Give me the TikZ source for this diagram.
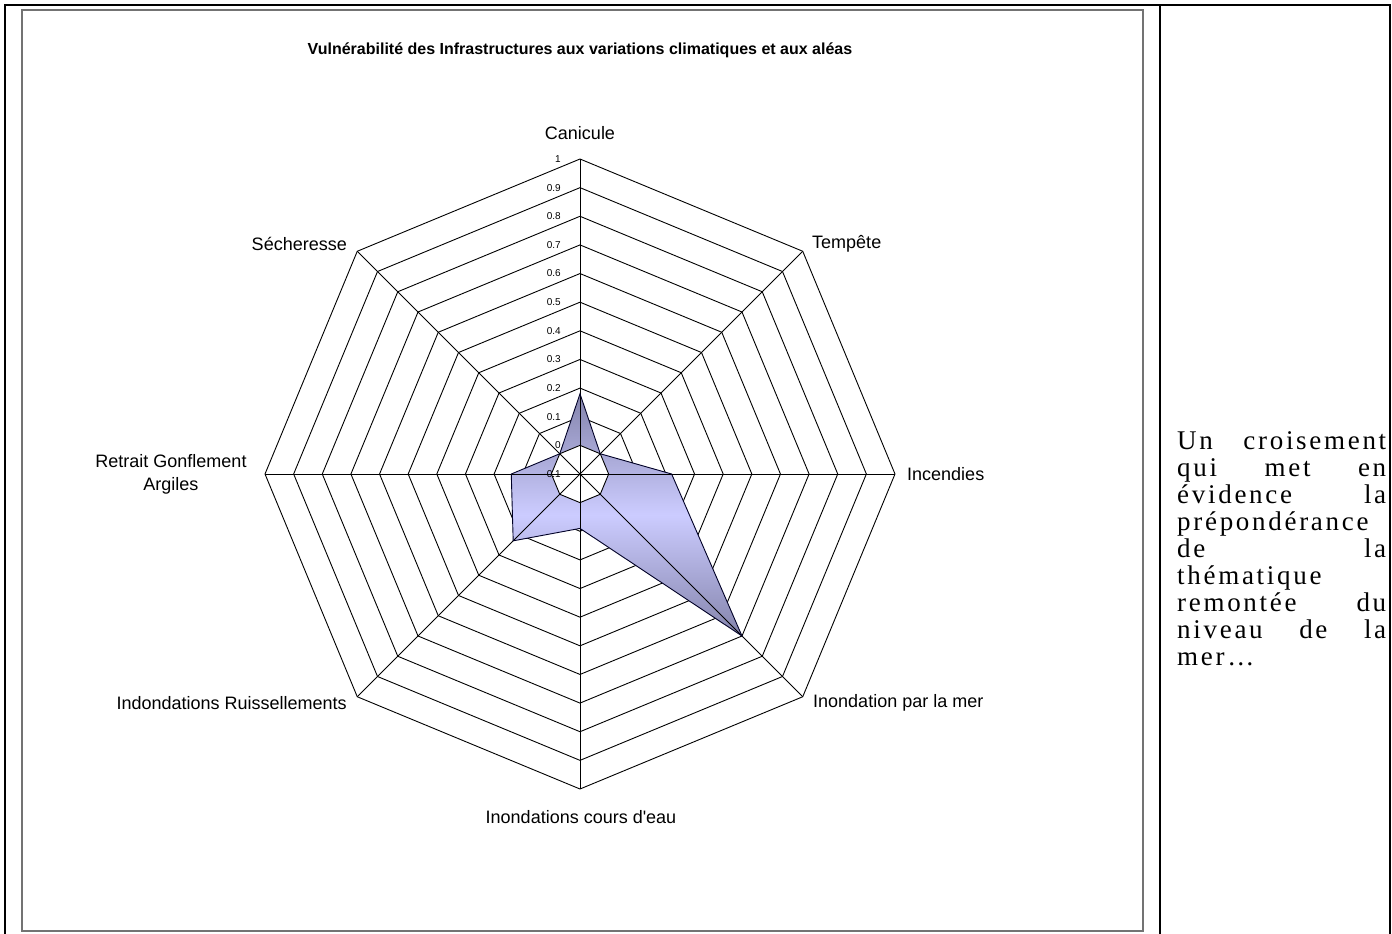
\documentclass[tikz,border=0pt]{standalone}
\usepackage{fontspec}
\setmainfont{Liberation Sans}
\newfontfamily\cellfont[LetterSpace=10]{Liberation Serif}
\usetikzlibrary{calc}
\definecolor{areadark}{RGB}{132,132,172}
\definecolor{arealight}{RGB}{204,204,255}
\def\rstep{28.636}
\tikzset{
  axislabel/.style={inner sep=0pt,font=\fontsize{18}{23}\selectfont},
  ticklabel/.style={inner sep=0pt,anchor=east,font=\fontsize{10}{12}\selectfont},
  gridline/.style={line width=0.9pt}
}
\begin{document}
\begin{tikzpicture}[x=1pt,y=-1pt,line join=miter]
\useasboundingbox (0,0) rectangle (1392,934);

% table frame
\draw[line width=2.5pt] (5,934) -- (5,5) -- (1390,5) -- (1390,934);
\draw[line width=2.5pt] (1160,5) -- (1160,934);

% chart area
\draw[black!55,line width=1.2pt] (22,10) rectangle (1143,931);
\node[font=\bfseries\fontsize{16}{19}\selectfont] (title) at (580,50) {Vulnérabilité des Infrastructures aux variations climatiques et aux aléas};

\begin{scope}[shift={(580,474)},y=1pt]
  \foreach \i in {1,...,11}
    \draw[gridline] (0:{\i*\rstep}) \foreach \a in {45,90,...,315} { -- (\a:{\i*\rstep}) } -- cycle;

  \foreach \a/\v [count=\k] in {90/0.18,45/0,0/0.22,-45/0.7,-90/0.09,-135/0.23,180/0.14,135/0}
    \coordinate (d\k) at (\a:{(\v+0.1)*10*\rstep});
  \shade[top color=areadark,bottom color=areadark,middle color=arealight]
    (d1) -- (d2) -- (d3) -- (d4) -- (d5) -- (d6) -- (d7) -- (d8) -- cycle;
  \filldraw[gridline,fill=white] (0:\rstep) \foreach \a in {45,90,...,315} { -- (\a:\rstep) } -- cycle;

  \foreach \a in {0,45,...,315}
    \draw[gridline] (0,0) -- (\a:{11*\rstep});
  \draw[line width=0.9pt,black!85!blue] (d1) -- (d2) -- (d3) -- (d4) -- (d5) -- (d6) -- (d7) -- (d8) -- cycle;

  \foreach \t [count=\i from 0] in {-0.1,0,0.1,0.2,0.3,0.4,0.5,0.6,0.7,0.8,0.9,1}
    \node[ticklabel] (tick\i) at (-19,{\i*\rstep}) {\t};
\end{scope}

\node[axislabel] (canicule) at (580,133) {Canicule};
\node[axislabel,anchor=west] (tempete) at (812,244) {Tempête};
\node[axislabel,anchor=west] (incendies) at (907,474) {Incendies};
\node[axislabel,anchor=west] (mer) at (813,703) {Inondation par la mer};
\node[axislabel] (coursdeau) at (581,817) {Inondations cours d\textquotesingle eau};
\node[axislabel,anchor=east] (ruissel) at (347,703) {Indondations Ruissellements};
\node[axislabel,align=center] (argiles) at (171,474) {Retrait Gonflement\\Argiles};
\node[axislabel,anchor=east] (secheresse) at (347,244) {Sécheresse};

% comment cell
\node[anchor=north west,inner sep=0pt,text width=209pt,
      font=\cellfont\fontsize{27}{27}\selectfont] (comment) at (1177,431)
  {Un\hfill croisement\\
   qui\hfill met\hfill en\\
   évidence\hfill la\\
   prépondérance\\
   de\hfill la\\
   thématique\\
   remontée\hfill du\\
   niveau\hfill de\hfill la\\
   mer…};
\end{tikzpicture}
\end{document}
